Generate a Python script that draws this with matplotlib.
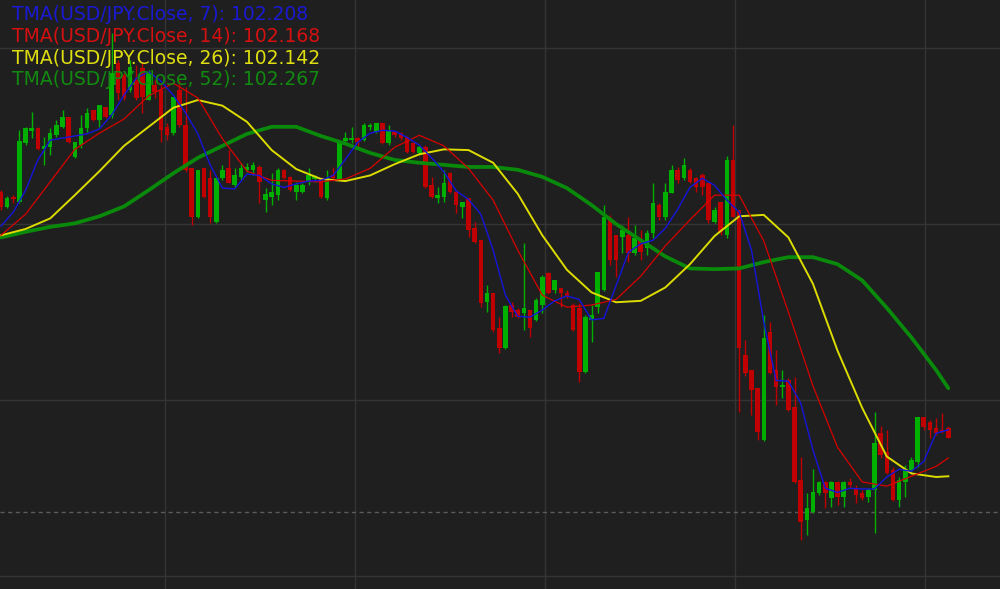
import numpy as np
import matplotlib
matplotlib.use('Agg')
import matplotlib.pyplot as plt

# USD/JPY candles
opens = [102.545, 102.524, 102.538, 102.531, 102.615, 102.632, 102.636, 102.606, 102.609, 102.626,
         102.638, 102.652, 102.595, 102.612, 102.636, 102.662, 102.648, 102.666, 102.655, 102.729,
         102.711, 102.690, 102.704, 102.721, 102.676, 102.697, 102.690, 102.638, 102.629, 102.690,
         102.640, 102.579, 102.510, 102.579, 102.565, 102.503, 102.565, 102.579, 102.555, 102.567,
         102.577, 102.577, 102.581, 102.534, 102.538, 102.541, 102.577, 102.567, 102.545, 102.545,
         102.560, 102.564, 102.565, 102.537, 102.569, 102.562, 102.618, 102.619, 102.622, 102.619,
         102.638, 102.631, 102.643, 102.615, 102.631, 102.629, 102.623, 102.615, 102.601, 102.609,
         102.555, 102.537, 102.538, 102.572, 102.545, 102.524, 102.537, 102.494, 102.477, 102.389,
         102.402, 102.352, 102.324, 102.385, 102.378, 102.374, 102.378, 102.364, 102.385, 102.430,
         102.406, 102.409, 102.402, 102.385, 102.381, 102.290, 102.364, 102.382, 102.406, 102.506,
         102.484, 102.481, 102.484, 102.459, 102.477, 102.466, 102.487, 102.527, 102.510, 102.544,
         102.577, 102.565, 102.577, 102.565, 102.569, 102.558, 102.503, 102.531, 102.484, 102.591,
         102.520, 102.314, 102.293, 102.267, 102.193, 102.347, 102.293, 102.268, 102.278, 102.240,
         102.136, 102.080, 102.091, 102.118, 102.134, 102.111, 102.134, 102.112, 102.134, 102.126,
         102.118, 102.112, 102.122, 102.203, 102.176, 102.151, 102.108, 102.134, 102.151, 102.162,
         102.226, 102.219, 102.210, 102.207, 102.210]
highs = [102.548, 102.540, 102.541, 102.633, 102.638, 102.659, 102.638, 102.623, 102.636, 102.648,
         102.662, 102.652, 102.616, 102.655, 102.665, 102.662, 102.669, 102.666, 102.771, 102.733,
         102.714, 102.733, 102.726, 102.730, 102.719, 102.704, 102.700, 102.643, 102.680, 102.704,
         102.694, 102.579, 102.577, 102.579, 102.577, 102.565, 102.584, 102.605, 102.579, 102.587,
         102.587, 102.588, 102.584, 102.551, 102.572, 102.579, 102.578, 102.568, 102.560, 102.558,
         102.579, 102.569, 102.567, 102.577, 102.581, 102.618, 102.631, 102.638, 102.623, 102.643,
         102.643, 102.643, 102.643, 102.640, 102.632, 102.631, 102.625, 102.616, 102.612, 102.612,
         102.567, 102.552, 102.577, 102.574, 102.548, 102.531, 102.537, 102.503, 102.477, 102.413,
         102.402, 102.368, 102.385, 102.389, 102.381, 102.473, 102.378, 102.395, 102.427, 102.432,
         102.420, 102.409, 102.406, 102.388, 102.388, 102.371, 102.385, 102.432, 102.527, 102.513,
         102.484, 102.498, 102.510, 102.498, 102.491, 102.491, 102.558, 102.530, 102.558, 102.584,
         102.581, 102.594, 102.579, 102.567, 102.572, 102.558, 102.524, 102.531, 102.596, 102.640,
         102.520, 102.335, 102.293, 102.267, 102.371, 102.361, 102.321, 102.293, 102.281, 102.283,
         102.169, 102.118, 102.153, 102.136, 102.136, 102.135, 102.136, 102.136, 102.139, 102.129,
         102.122, 102.125, 102.233, 102.214, 102.207, 102.155, 102.141, 102.158, 102.169, 102.226,
         102.226, 102.222, 102.224, 102.232, 102.214]
lows = [102.520, 102.523, 102.530, 102.530, 102.612, 102.622, 102.605, 102.584, 102.598, 102.623,
        102.636, 102.615, 102.594, 102.608, 102.631, 102.646, 102.638, 102.650, 102.650, 102.676,
        102.676, 102.687, 102.676, 102.658, 102.676, 102.679, 102.616, 102.619, 102.626, 102.638,
        102.574, 102.498, 102.508, 102.537, 102.501, 102.501, 102.562, 102.558, 102.551, 102.562,
        102.574, 102.569, 102.530, 102.517, 102.527, 102.534, 102.564, 102.547, 102.534, 102.544,
        102.555, 102.560, 102.537, 102.534, 102.562, 102.562, 102.615, 102.615, 102.609, 102.618,
        102.633, 102.629, 102.614, 102.612, 102.623, 102.619, 102.601, 102.601, 102.598, 102.551,
        102.537, 102.530, 102.531, 102.544, 102.516, 102.508, 102.481, 102.473, 102.382, 102.375,
        102.347, 102.317, 102.322, 102.368, 102.366, 102.349, 102.339, 102.362, 102.374, 102.401,
        102.402, 102.382, 102.395, 102.348, 102.276, 102.288, 102.332, 102.374, 102.405, 102.442,
        102.425, 102.459, 102.446, 102.456, 102.449, 102.456, 102.480, 102.506, 102.506, 102.544,
        102.558, 102.562, 102.558, 102.545, 102.541, 102.501, 102.501, 102.484, 102.480, 102.510,
        102.233, 102.285, 102.229, 102.193, 102.192, 102.287, 102.243, 102.253, 102.234, 102.132,
        102.051, 102.058, 102.090, 102.115, 102.097, 102.098, 102.101, 102.099, 102.126, 102.104,
        102.108, 102.105, 102.061, 102.168, 102.145, 102.107, 102.098, 102.112, 102.146, 102.155,
        102.207, 102.197, 102.200, 102.203, 102.196]
closes = [102.524, 102.537, 102.535, 102.618, 102.636, 102.636, 102.606, 102.611, 102.629, 102.640,
          102.652, 102.616, 102.616, 102.636, 102.658, 102.648, 102.669, 102.652, 102.714, 102.686,
          102.679, 102.723, 102.679, 102.680, 102.714, 102.687, 102.633, 102.626, 102.680, 102.640,
          102.577, 102.510, 102.577, 102.538, 102.510, 102.565, 102.577, 102.558, 102.569, 102.579,
          102.581, 102.584, 102.560, 102.543, 102.545, 102.577, 102.565, 102.548, 102.555, 102.555,
          102.569, 102.568, 102.538, 102.565, 102.565, 102.615, 102.622, 102.622, 102.616, 102.640,
          102.640, 102.643, 102.615, 102.633, 102.626, 102.622, 102.602, 102.602, 102.609, 102.552,
          102.538, 102.541, 102.558, 102.545, 102.527, 102.531, 102.491, 102.474, 102.388, 102.402,
          102.349, 102.324, 102.383, 102.375, 102.368, 102.381, 102.352, 102.392, 102.425, 102.402,
          102.420, 102.402, 102.396, 102.349, 102.290, 102.368, 102.371, 102.432, 102.510, 102.449,
          102.449, 102.491, 102.459, 102.480, 102.460, 102.487, 102.530, 102.510, 102.545, 102.577,
          102.562, 102.584, 102.560, 102.552, 102.552, 102.506, 102.520, 102.489, 102.591, 102.510,
          102.324, 102.288, 102.264, 102.205, 102.338, 102.288, 102.268, 102.271, 102.236, 102.134,
          102.077, 102.097, 102.119, 102.134, 102.118, 102.134, 102.112, 102.134, 102.129, 102.115,
          102.111, 102.122, 102.189, 102.172, 102.146, 102.108, 102.136, 102.153, 102.165, 102.226,
          102.212, 102.207, 102.203, 102.205, 102.197]

# triangular moving averages (x = candle index)
tma7_x = list(range(0, 155, 2))
tma7 = [102.497, 102.517, 102.548, 102.591, 102.619, 102.622, 102.625, 102.628, 102.635, 102.655,
        102.683, 102.707, 102.716, 102.703, 102.683, 102.658, 102.628, 102.584, 102.551, 102.550,
        102.571, 102.569, 102.557, 102.552, 102.557, 102.561, 102.562, 102.569, 102.592, 102.616,
        102.629, 102.633, 102.632, 102.623, 102.612, 102.594, 102.574, 102.547, 102.535, 102.514,
        102.463, 102.399, 102.369, 102.368, 102.378, 102.391, 102.398, 102.393, 102.364, 102.366,
        102.413, 102.460, 102.472, 102.477, 102.494, 102.521, 102.552, 102.565, 102.555, 102.534,
        102.517, 102.463, 102.361, 102.278, 102.277, 102.246, 102.179, 102.125, 102.119, 102.125,
        102.124, 102.124, 102.141, 102.152, 102.149, 102.163, 102.203, 102.208]
tma_x = list(range(0, 153, 4)) + [154]
tma14 = [102.484, 102.514, 102.560, 102.606, 102.629, 102.649, 102.682, 102.700, 102.679, 102.621,
         102.575, 102.562, 102.561, 102.560, 102.564, 102.579, 102.609, 102.626, 102.611, 102.579,
         102.534, 102.463, 102.399, 102.382, 102.385, 102.393, 102.426, 102.469, 102.506, 102.541,
         102.541, 102.476, 102.375, 102.270, 102.183, 102.134, 102.128, 102.142, 102.156, 102.168]
tma26 = [102.484, 102.493, 102.508, 102.541, 102.575, 102.611, 102.638, 102.665, 102.676, 102.668,
         102.645, 102.605, 102.578, 102.564, 102.561, 102.569, 102.585, 102.599, 102.606, 102.605,
         102.587, 102.543, 102.484, 102.435, 102.403, 102.389, 102.391, 102.410, 102.443, 102.483,
         102.511, 102.513, 102.481, 102.415, 102.320, 102.239, 102.170, 102.146, 102.141, 102.142]
tma52 = [102.481, 102.489, 102.496, 102.501, 102.511, 102.525, 102.548, 102.572, 102.594, 102.611,
         102.628, 102.638, 102.638, 102.625, 102.614, 102.601, 102.591, 102.587, 102.584, 102.581,
         102.581, 102.577, 102.567, 102.551, 102.527, 102.500, 102.477, 102.454, 102.437, 102.436,
         102.437, 102.446, 102.453, 102.453, 102.443, 102.420, 102.381, 102.339, 102.293, 102.267]

grid_x = [26.7, 57.6, 88.5, 119.3, 150.2]
grid_y = [102.0, 102.25, 102.5, 102.75]
ref_level = 102.091

bg = '#1f1f1f'
grid_c = '#343434'
up_c = '#00b000'
down_c = '#c00000'

fig = plt.figure(figsize=(10, 5.89), dpi=100, facecolor=bg)
ax = fig.add_axes([0, 0, 1, 1])
ax.set_facecolor(bg)
ax.set_xlim(-0.16, 162.4)
ax.set_ylim(101.982, 102.818)
ax.set_xticks([])
ax.set_yticks([])
for s in ax.spines.values():
    s.set_visible(False)

for gx in grid_x:
    ax.axvline(gx, color=grid_c, lw=1.0, zorder=0)
for gy in grid_y:
    ax.axhline(gy, color=grid_c, lw=1.0, zorder=0)
ax.axhline(ref_level, color='#5c5c5c', lw=1.0, ls=(0, (3, 2.5)), zorder=1)

o = np.array(opens)
h = np.array(highs)
l = np.array(lows)
c = np.array(closes)
x = np.arange(len(c))
cols = np.where(c >= o, up_c, down_c)

# wicks then bodies
ax.vlines(x, l, h, colors=cols, lw=1.0, zorder=2)
body_bot = np.minimum(o, c)
body_h = np.maximum(np.abs(c - o), 0.0018)
ax.bar(x, body_h, bottom=body_bot, width=0.74, color=cols, lw=0, zorder=3)

ax.plot(tma_x, tma52, color='#0a8a0a', lw=2.7, zorder=4, solid_capstyle='round')
ax.plot(tma_x, tma26, color='#dcdc00', lw=1.4, zorder=5)
ax.plot(tma_x, tma14, color='#d80000', lw=0.9, zorder=6)
ax.plot(tma7_x, tma7, color='#1515dc', lw=1.0, zorder=7)

labels = [
    ('TMA(USD/JPY.Close, 7): %.3f' % tma7[-1], '#1a1ad2', 15),
    ('TMA(USD/JPY.Close, 14): %.3f' % tma14[-1], '#d41010', 37),
    ('TMA(USD/JPY.Close, 26): %.3f' % tma26[-1], '#dede10', 59),
    ('TMA(USD/JPY.Close, 52): %.3f' % tma52[-1], '#118a11', 80),
]
for txt, col, ypx in labels:
    fig.text(12 / 1000, 1 - ypx / 589, txt, color=col, fontsize=13.5,
             family='DejaVu Sans', va='center', ha='left', zorder=10)

fig.savefig('out.png', dpi=100, facecolor=bg)
